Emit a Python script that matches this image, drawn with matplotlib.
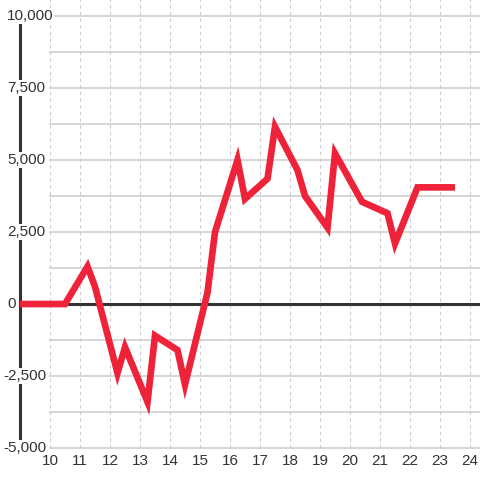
import matplotlib
matplotlib.use("Agg")
import matplotlib.pyplot as plt

# ---------------------
# DATA
# ---------------------
hours = [9, 10.5, 11.25, 11.5, 12.25, 12.5, 13.25, 13.5, 14.25, 14.5,
         15.25, 15.5, 16.25, 16.5, 17.25, 17.5, 18.25, 18.5, 19.25, 19.5,
         20.4, 21.25, 21.5, 22.25, 23.5]
values = [0, 0, 1300, 600, -2400, -1500, -3400, -1100, -1600, -2800,
          400, 2500, 5000, 3650, 4350, 6150, 4650, 3750, 2650, 5230,
          3550, 3150, 2100, 4050, 4050]

x_ticks = list(range(10, 25))
y_ticks = [-5000, -2500, 0, 2500, 5000, 7500, 10000]
y_grid = [-5000 + 1250 * i for i in range(13)]

RED = '#ee2238'
DARK = '#333333'
GRID = '#cccccc'

plt.rcParams['font.family'] = ['Liberation Sans', 'DejaVu Sans']

fig = plt.figure(figsize=(4.8, 4.8), dpi=100)
ax = fig.add_axes([0, 0, 1, 1])
ax.set_xlim(8.3333, 24.3333)
ax.set_ylim(-6111, 10556)
ax.axis('off')

# grid
for y in y_grid:
    ax.plot([10, 24.4], [y, y], color=GRID, lw=1.1, zorder=1)
for x in x_ticks:
    ax.plot([x, x], [-5000, 10600], color=GRID, lw=0.8, ls=(0, (3, 3)), zorder=1)

# axis lines
ax.plot([9, 24.4], [0, 0], color=DARK, lw=2.2, zorder=2, solid_capstyle='butt')
ax.plot([9, 9], [-5000, 10000], color=DARK, lw=2.2, zorder=2, solid_capstyle='butt')

# series
ax.plot(hours, values, color=RED, lw=4.8, zorder=3,
        solid_joinstyle='miter', solid_capstyle='butt')

# tick labels (left aligned, negatives start a bit further left)
for y in y_ticks:
    left_px = 3 if y < 0 else 7
    ax.text(8.3333 + left_px / 30, y, f'{y:,}', ha='left', va='center', fontsize=11,
            color=DARK, zorder=4,
            bbox=dict(facecolor='white', edgecolor='none', pad=0.5))
for x in x_ticks:
    ax.text(x, -5460, str(x), ha='center', va='center', fontsize=11,
            color=DARK, zorder=4)

fig.savefig('out.png', dpi=100, facecolor='white')
